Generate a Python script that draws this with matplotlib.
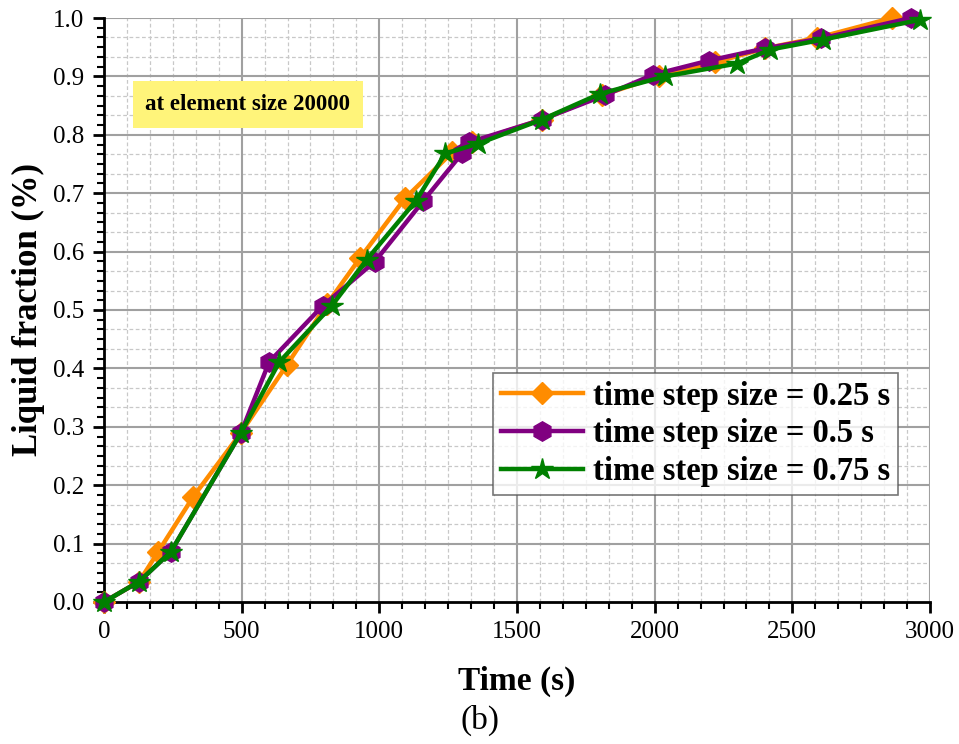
import numpy as np
import matplotlib.pyplot as plt
from matplotlib.ticker import MultipleLocator

# Dados
t_025 = [0, 128, 197, 324, 498, 663, 810, 930, 1093, 1265, 1335, 1590, 1810, 2015, 2219, 2401, 2590, 2862]
f_025 = [0, 0.035, 0.086, 0.180, 0.290, 0.405, 0.510, 0.589, 0.691, 0.770, 0.787, 0.826, 0.868, 0.900, 0.924, 0.948, 0.966, 1.0]

t_05 = [0, 128, 243, 498, 600, 794, 984, 1160, 1300, 1325, 1590, 1820, 1995, 2196, 2401, 2605, 2930]
f_05 = [0, 0.035, 0.086, 0.290, 0.411, 0.507, 0.583, 0.687, 0.768, 0.787, 0.826, 0.868, 0.903, 0.927, 0.948, 0.965, 1.0]

t_075 = [0, 128, 243, 498, 637, 827, 954, 1133, 1240, 1360, 1590, 1800, 2037, 2299, 2420, 2611, 2965]
f_075 = [0, 0.035, 0.086, 0.290, 0.411, 0.507, 0.586, 0.687, 0.768, 0.785, 0.826, 0.870, 0.900, 0.922, 0.946, 0.963, 0.997]

rotulos = ["time step size = 0.25 s", "time step size = 0.5 s", "time step size = 0.75 s"]

plt.rcParams["font.family"] = ["Liberation Serif", "DejaVu Serif"]

fig = plt.figure(figsize=(9.59, 7.44), dpi=100)
ax = fig.add_axes([0.1084, 0.1909, 0.8614, 0.7849])

# Grade
for xv in np.arange(0, 3001, 500 / 6):
    if xv % 500 > 1e-6:
        ax.axvline(xv, color="#c8c8c8", lw=0.9, ls=(0, (3, 2)), zorder=0)
for yv in np.arange(0, 1.0001, 0.1 / 3):
    if abs(yv * 10 - round(yv * 10)) > 1e-6:
        ax.axhline(yv, color="#c8c8c8", lw=0.9, ls=(0, (3, 2)), zorder=0)
for xv in np.arange(500, 3001, 500):
    ax.axvline(xv, color="#a0a0a0", lw=1.5, zorder=0)
for yv in np.arange(0.1, 1.0001, 0.1):
    ax.axhline(yv, color="#a0a0a0", lw=1.5, zorder=0)

ax.plot(t_025, f_025, color="#ff8c00", lw=3.2, marker="D", ms=11, label=rotulos[0], clip_on=False, zorder=3)
ax.plot(t_05, f_05, color="#800080", lw=3.2, marker="h", ms=14, label=rotulos[1], clip_on=False, zorder=4)
ax.plot(t_075, f_075, color="#008000", lw=3.2, marker="*", ms=16, label=rotulos[2], clip_on=False, zorder=5)

ax.set_xlim(0, 3000)
ax.set_ylim(0, 1.0)
ax.xaxis.set_major_locator(MultipleLocator(500))
ax.xaxis.set_minor_locator(MultipleLocator(500 / 6))
ax.yaxis.set_major_locator(MultipleLocator(0.1))
ax.yaxis.set_minor_locator(MultipleLocator(0.1 / 6))
ax.yaxis.set_major_formatter(lambda v, p: f"{v:.1f}")

ax.tick_params(which="major", direction="out", length=8, width=2, labelsize=18, pad=6)
ax.tick_params(which="minor", direction="out", length=5, width=1.5)
ax.spines["top"].set_visible(False)
ax.spines["right"].set_visible(False)
ax.spines["left"].set_linewidth(2)
ax.spines["bottom"].set_linewidth(2)

ax.set_xlabel("Time (s)", fontsize=24, fontweight="bold", labelpad=16)
ax.set_ylabel("Liquid fraction (%)", fontsize=25, fontweight="bold", labelpad=6)

leg = ax.legend(loc="lower right", bbox_to_anchor=(0.961, 0.183),
                prop={"weight": "bold", "size": 23.5}, frameon=True, fancybox=False,
                edgecolor="#555555", handlelength=2.5, handletextpad=0.3,
                labelspacing=0.2, borderpad=0.25, borderaxespad=0)
leg.get_frame().set_linewidth(1.2)

ax.text(0.174, 0.852, "at element size 20000", transform=ax.transAxes, fontsize=16.5,
        fontweight="bold", ha="center", va="center",
        bbox=dict(boxstyle="square,pad=0.55", fc="#fff47a", ec="none"), zorder=6)

fig.text(0.5, 0.032, "(b)", ha="center", va="center", fontsize=24)

fig.savefig("out.png", dpi=100)
